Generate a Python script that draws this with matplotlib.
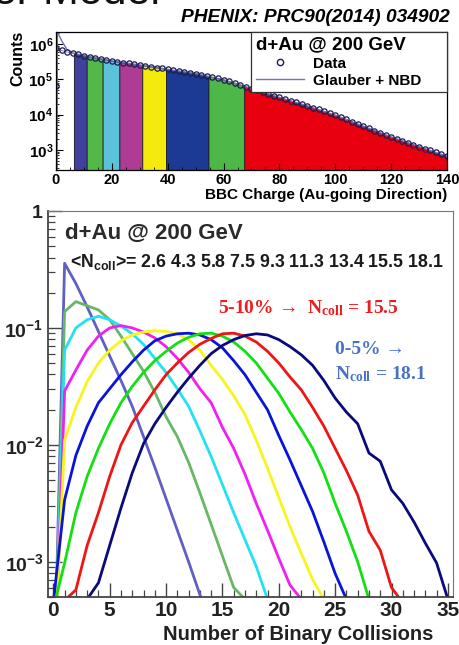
import numpy as np
import matplotlib
matplotlib.use("Agg")
import matplotlib.pyplot as plt
from matplotlib.lines import Line2D
from matplotlib.ticker import MultipleLocator, LogLocator, NullFormatter

plt.rcParams['font.family'] = ['Liberation Sans', 'DejaVu Sans']
plt.rcParams['font.weight'] = 'bold'
plt.rcParams['mathtext.fontset'] = 'custom'
plt.rcParams['mathtext.rm'] = 'Liberation Serif:bold'
plt.rcParams['mathtext.bf'] = 'Liberation Sans:bold'

# --- top panel : BBC charge distribution (log10 of counts, every 2 units) ---
bbc_charge = np.arange(0, 141, 2)
bbc_log_counts = [5.88, 5.83, 5.785, 5.745, 5.71, 5.675, 5.645, 5.615, 5.585, 5.555,
                  5.525, 5.50, 5.475, 5.45, 5.43, 5.41, 5.385, 5.36, 5.335, 5.31,
                  5.285, 5.26, 5.24, 5.215, 5.19, 5.165, 5.135, 5.10, 5.065, 5.03,
                  4.99, 4.945, 4.895, 4.845, 4.79, 4.74, 4.69, 4.635, 4.585, 4.535,
                  4.49, 4.44, 4.39, 4.345, 4.30, 4.25, 4.20, 4.15, 4.095, 4.04,
                  3.985, 3.925, 3.865, 3.80, 3.74, 3.675, 3.61, 3.55, 3.49, 3.43,
                  3.37, 3.315, 3.26, 3.205, 3.15, 3.095, 3.04, 2.985, 2.93, 2.875, 2.82]
outlier_x = [0]
outlier_log = [4.8]

glauber_x = [0.3, 0.5, 2, 4, 6, 10, 20, 30, 40, 50, 60, 70, 80, 90, 100, 110, 120, 130, 140]
glauber_log = [2.3, 6.34, 6.1, 5.84, 5.75, 5.675, 5.525, 5.41, 5.285, 5.165, 4.99, 4.74,
               4.49, 4.25, 3.985, 3.675, 3.37, 3.095, 2.82]

bin_edges = [0.3, 6.4, 11, 16.7, 22.7, 30.9, 39.4, 54.6, 67.4, 140]
bin_colors = ['white', '#40409e', '#52b848', '#5bc3d9', '#ae3c95', '#f4ea0c',
              '#1c3a94', '#4db848', '#e8000f']

# --- bottom panel : Ncoll distributions per centrality class (log10) ---
ncoll_mean = ['2.6', '4.3', '5.8', '7.5', '9.3', '11.3', '13.4', '15.5', '18.1']
curve_colors = ['#5f5fc4', '#66b866', '#22e2f2', '#f020f0', '#f8f41c',
                '#0a14d8', '#12e012', '#f01414', '#0a0a7a']
c26 = [-4.3, -0.447, -0.62, -0.82, -1.03, -1.24, -1.45, -1.67, -1.93, -2.19, -2.46,
       -2.73, -3.0, -3.28, -3.6]
c43 = [-4.3, -0.86, -0.775, -0.81, -0.846, -0.93, -1.07, -1.22, -1.37, -1.55, -1.76,
       -1.93, -2.15, -2.41, -2.68, -2.95, -3.22, -3.32]
c58 = [-4.3, -1.19, -1.0, -0.93, -0.90, -0.93, -0.985, -1.05, -1.14, -1.26, -1.38,
       -1.52, -1.67, -1.88, -2.10, -2.34, -2.58, -2.81, -3.04, -3.32]
c75 = [-4.3, -1.54, -1.36, -1.19, -1.07, -1.00, -0.98, -1.0, -1.035, -1.085, -1.16,
       -1.26, -1.38, -1.52, -1.64, -1.85, -2.03, -2.25, -2.50, -2.73, -2.97, -3.20, -3.32]
c93 = [-4.0, -1.96, -1.68, -1.46, -1.30, -1.19, -1.11, -1.06, -1.035, -1.025, -1.03,
       -1.05, -1.10, -1.19, -1.32, -1.44, -1.58, -1.74, -1.96, -2.20, -2.45, -2.70,
       -2.93, -3.15, -3.32]
c113 = [-3.35, -2.47, -2.09, -1.84, -1.64, -1.52, -1.40, -1.29, -1.19, -1.11, -1.07,
        -1.05, -1.045, -1.06, -1.10, -1.17, -1.28, -1.40, -1.55, -1.70, -1.92, -2.13,
        -2.35, -2.57, -2.83, -3.10, -3.32]
c134 = [-3.4, -3.01, -2.58, -2.27, -2.03, -1.82, -1.64, -1.50, -1.38, -1.28, -1.20,
        -1.13, -1.08, -1.05, -1.045, -1.07, -1.12, -1.20, -1.30, -1.43, -1.56, -1.72,
        -1.87, -2.03, -2.24, -2.50, -2.74, -3.0, -3.32]
c155 = [-5.0, -3.33, -3.24, -2.86, -2.58, -2.27, -2.0, -1.81, -1.67, -1.53, -1.40,
        -1.30, -1.21, -1.14, -1.09, -1.05, -1.045, -1.07, -1.12, -1.20, -1.30, -1.42,
        -1.53, -1.68, -1.84, -2.03, -2.22, -2.43, -2.74, -2.90, -3.22, -3.35]
c181 = [-5.0, -5.0, -5.0, -3.32, -3.18, -2.86, -2.54, -2.24, -1.99, -1.82, -1.68,
        -1.55, -1.43, -1.32, -1.22, -1.15, -1.10, -1.065, -1.05, -1.06, -1.10, -1.16,
        -1.23, -1.32, -1.45, -1.60, -1.72, -1.82, -2.07, -2.14, -2.385, -2.50, -2.66,
        -2.84, -3.01, -3.32]
curves = [c26, c43, c58, c75, c93, c113, c134, c155, c181]

W, H = 460, 645
fig = plt.figure(figsize=(W / 100, H / 100), dpi=100)

# ---------------- top panel ----------------
ax1 = fig.add_axes([56 / W, 1 - 170 / H, 391 / W, 138 / H])
counts = 10 ** np.array(bbc_log_counts)
for i in range(len(bin_colors)):
    a, b = bin_edges[i], bin_edges[i + 1]
    xs = np.concatenate([[a], bbc_charge[(bbc_charge > a) & (bbc_charge < b)], [b]])
    ys = np.interp(xs, bbc_charge, counts)
    ec = '#7a7ac8' if bin_colors[i] == 'white' else '#222222'
    ax1.fill_between(xs, ys, 1, facecolor=bin_colors[i], edgecolor=ec, linewidth=0.6)
ax1.plot(glauber_x, 10 ** np.array(glauber_log), color='#7070c8', lw=1.0)
ax1.plot(bbc_charge, counts, 'o', ms=3.8, mfc='none', mec='#1c1c4c', mew=0.9)
ax1.plot(outlier_x, 10 ** np.array(outlier_log), 'o', ms=3.8, mfc='none', mec='#1c1c4c', mew=0.9)
ax1.set_yscale('log')
ax1.set_xlim(0, 140)
ax1.set_ylim(270, 2.2e6)
ax1.set_xticks(range(0, 141, 20))
ax1.set_xticklabels([str(v) for v in range(0, 141, 20)], fontsize=10.5, fontweight='bold')
ax1.xaxis.set_minor_locator(MultipleLocator(5))
ax1.set_yticks([1e3, 1e4, 1e5, 1e6])
ax1.set_yticklabels([r'$\mathbf{10^{%d}}$' % k for k in (3, 4, 5, 6)], fontsize=11)
ax1.yaxis.set_minor_locator(LogLocator(subs=np.arange(2, 10)))
ax1.yaxis.set_minor_formatter(NullFormatter())
ax1.tick_params(which='both', direction='in', top=False, right=False, pad=2)
ax1.tick_params(which='major', length=5, width=0.8)
ax1.tick_params(which='minor', length=2.5, width=0.6)
for s in ax1.spines.values():
    s.set_linewidth(0.9)

handles = [Line2D([], [], marker='o', ls='none', ms=4.5, mfc='none', mec='#1c1c4c', mew=1.0),
           Line2D([], [], color='#7070c8', lw=1.0)]
leg = ax1.legend(handles, ['Data', 'Glauber + NBD'], title='d+Au @ 200 GeV',
                 loc='upper left', bbox_to_anchor=(0.4987, 0, 0.5013, 1), mode='expand',
                 borderaxespad=0, fancybox=False, edgecolor='#333333', framealpha=1,
                 prop={'weight': 'bold', 'size': 11}, handlelength=3.2,
                 labelspacing=0.2, borderpad=0.3, handletextpad=0.55,
                 alignment='left')
leg.get_title().set_fontweight('bold')
leg.get_title().set_fontsize(13.5)
leg.get_frame().set_linewidth(0.9)

fig.text(18 / W, 1 - 58 / H, 'Counts', rotation=90, ha='center', va='center',
         fontsize=11.5, fontweight='bold')
fig.text(447 / W, 1 - 195 / H, 'BBC Charge (Au-going Direction)', ha='right',
         va='center', fontsize=11, fontweight='bold')
fig.text(450 / W, 1 - 18 / H, 'PHENIX: PRC90(2014) 034902', ha='right', va='center',
         fontsize=13.8, fontweight='bold', style='italic')
fig.text(160 / W, 1 - 4 / H, 'Glauber Model', ha='right', va='baseline',
         fontsize=31, fontweight='normal', color='#111111')

# ---------------- bottom panel ----------------
ax2 = fig.add_axes([47.7 / W, 1 - 597 / H, 405.8 / W, 386 / H])
for vals, col in zip(curves, curve_colors):
    ax2.plot(np.arange(len(vals)), 10 ** np.array(vals), color=col, lw=2.0,
             solid_joinstyle='round')
ax2.set_yscale('log')
ax2.set_xlim(-0.5, 35.5)
ax2.set_ylim(5e-4, 1)
ax2.set_xticks(range(0, 36, 5))
ax2.set_xticklabels([str(v) for v in range(0, 36, 5)], fontsize=15, fontweight='bold',
                    color='#222222')
ax2.xaxis.set_minor_locator(MultipleLocator(1))
ax2.set_yticks([1e-3, 1e-2, 1e-1, 1])
ax2.set_yticklabels([r'$\mathbf{10^{-3}}$', r'$\mathbf{10^{-2}}$', r'$\mathbf{10^{-1}}$',
                     r'$\mathbf{1}$'], fontsize=14, color='#222222')
ax2.yaxis.set_minor_locator(LogLocator(subs=np.arange(2, 10)))
ax2.yaxis.set_minor_formatter(NullFormatter())
ax2.tick_params(which='both', direction='in', top=False, right=False, pad=3,
                color='#444444')
ax2.tick_params(which='major', length=10, width=1.0)
ax2.tick_params(which='minor', length=5, width=0.9)
ax2.spines['left'].set_color('#444444')
ax2.spines['bottom'].set_color('#444444')
ax2.spines['left'].set_linewidth(1.3)
ax2.spines['bottom'].set_linewidth(1.3)
ax2.spines['top'].set_color('#777777')
ax2.spines['right'].set_color('#777777')

ax2.text(0.043, 0.943, 'd+Au @ 200 GeV', transform=ax2.transAxes, ha='left',
         va='center', fontsize=16, fontweight='bold', color='#2a2a2a')
ax2.text(0.055, 0.868, '<' + r'$\mathbf{N_{coll}}$' + '>= ' + ' '.join(ncoll_mean),
         transform=ax2.transAxes, ha='left', va='center', fontsize=12.8,
         fontweight='bold', color='#1a1a1a')
serif = ['Liberation Serif', 'DejaVu Serif']
ax2.text(0.42, 0.749, '5-10% \u2192  ' + r'$\mathrm{N_{coll}}$' + ' = 15.5',
         transform=ax2.transAxes, ha='left', va='center', fontsize=14,
         fontweight='bold', family=serif, color='#ee1c1c')
ax2.text(0.708, 0.64, '0-5% \u2192', transform=ax2.transAxes, ha='left',
         va='center', fontsize=14, fontweight='bold', family=serif, color='#4a72c4')
ax2.text(0.708, 0.578, r'$\mathrm{N_{coll}}$' + ' = 18.1', transform=ax2.transAxes,
         ha='left', va='center', fontsize=14, fontweight='bold', family=serif,
         color='#4a72c4')

fig.text(433 / W, 1 - 634 / H, 'Number of Binary Collisions', ha='right', va='center',
         fontsize=14.5, fontweight='bold', color='#222222')

fig.savefig('out.png', dpi=100)
